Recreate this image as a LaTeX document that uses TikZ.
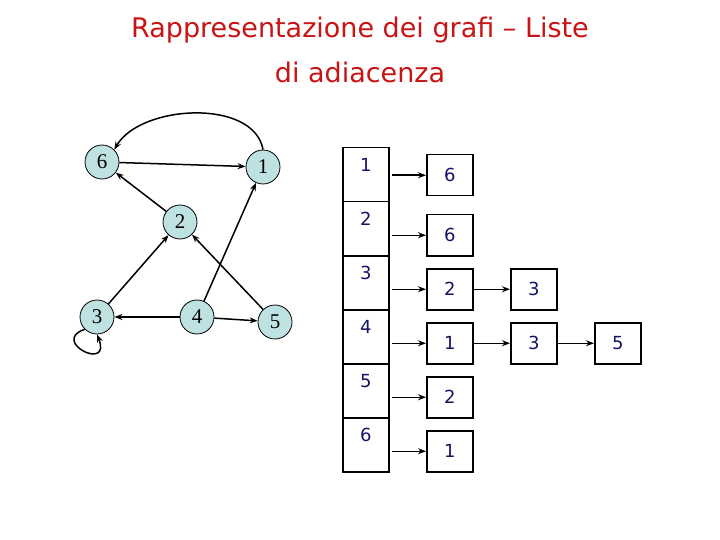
\documentclass[tikz,border=0pt]{standalone}
\usepackage{fontspec}
\setmainfont{Liberation Serif}
\newfontfamily\comic{DejaVu Sans}
\usetikzlibrary{arrows.meta}
\definecolor{navy}{RGB}{20,20,100}
\definecolor{vfill}{RGB}{190,225,225}
\definecolor{ttl}{RGB}{200,20,20}
\begin{document}
\begin{tikzpicture}[x=1pt,y=-1pt,
  vert/.style={circle,draw,line width=0.8pt,fill=vfill,minimum size=34pt,inner sep=0pt,font=\fontsize{21}{21}\selectfont},
  arr/.style={-{Stealth[length=8pt,width=6pt]},line width=1.5pt},
  cell/.style={draw,line width=1.5pt,minimum width=46pt,minimum height=54pt,inner sep=0pt,anchor=north west},
  lbox/.style={draw,line width=1.5pt,minimum width=46pt,minimum height=41pt,inner sep=0pt,anchor=north west,text=navy,font=\comic\fontsize{18}{18}\selectfont},
  num/.style={text=navy,font=\comic\fontsize{18}{18}\selectfont}]
\useasboundingbox (0,0) rectangle (720,540);
\node[text=ttl,font=\comic\fontsize{27}{27}\selectfont] (t1) at (360,30) {Rappresentazione dei grafi – Liste};
\node[text=ttl,font=\comic\fontsize{27}{27}\selectfont] (t2) at (360,72) {di adiacenza};
% graph
\node[vert] (v6) at (102,162) {6};
\node[vert] (v1) at (263,167) {1};
\node[vert] (v2) at (180,222) {2};
\node[vert] (v3) at (97,317) {3};
\node[vert] (v4) at (197,317) {4};
\node[vert] (v5) at (275,322) {5};
\draw[arr] (v6) -- (v1);
\draw[arr] (v1.north) to[out=100,in=60,looseness=0.9] (v6.north east);
\draw[arr] (v2) -- (v6);
\draw[arr] (v3) -- (v2);
\draw[arr] (v4) -- (v1);
\draw[arr] (v4) -- (v3);
\draw[arr] (v4) -- (v5);
\draw[arr] (v5) -- (v2);
\draw[arr] (v3.south west) .. controls +(-35,12) and +(15,38) .. (v3.south);
% table
\foreach \i/\y in {1/147,2/201,3/255,4/309,5/363,6/417}{
  \node[cell] (c\i) at (342,\y) {};
  \node[num,anchor=north] (n\i) at ([yshift=-8pt]c\i.north) {\i};
}
\node[lbox] (a1) at (426,154) {6};
\node[lbox] (a2) at (426,214) {6};
\node[lbox] (a3) at (426,268) {2};
\node[lbox] (b3) at (510,268) {3};
\node[lbox] (a4) at (426,322) {1};
\node[lbox] (b4) at (510,322) {3};
\node[lbox] (d4) at (594,322) {5};
\node[lbox] (a5) at (426,376) {2};
\node[lbox] (a6) at (426,430) {1};
\foreach \i in {1,...,6}{
  \draw[arr] ([xshift=2pt]c1.east |- a\i.west) -- (a\i.west);
}
\draw[arr] (a3.east) -- (b3.west);
\draw[arr] (a4.east) -- (b4.west);
\draw[arr] (b4.east) -- (d4.west);
\end{tikzpicture}
\end{document}
